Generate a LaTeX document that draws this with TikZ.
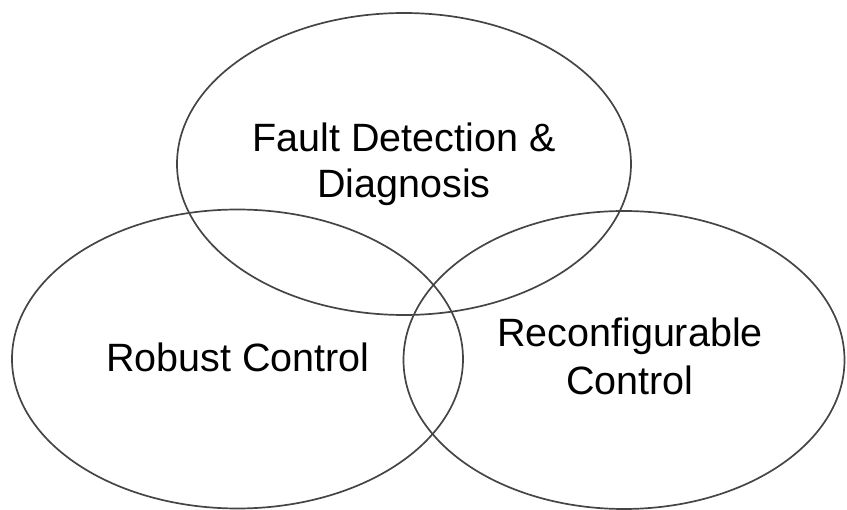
\documentclass[tikz,border=0pt]{standalone}
\usepackage{fontspec}
\setmainfont{Liberation Sans}
\usetikzlibrary{shapes.geometric}
\begin{document}
\begin{tikzpicture}[x=1pt,y=-1pt,
  venn/.style={ellipse,draw=black!73,line width=1.7pt,inner sep=0pt,outer sep=0pt},
  lbl/.style={anchor=base,inner sep=0pt,font=\fontsize{39.5pt}{47pt}\selectfont}]
\useasboundingbox (0,0) rectangle (847,510);
\node[venn,minimum width=454pt,minimum height=302pt] (fdd) at (404,164) {};
\node[venn,minimum width=451pt,minimum height=299pt] (rc) at (237.5,359) {};
\node[venn,minimum width=441pt,minimum height=298pt] (rec) at (624,360) {};
\node[lbl] (t1) at (404,152) {Fault Detection \&};
\node[lbl] (t2) at (404,198) {Diagnosis};
\node[lbl] (t3) at (238,372) {Robust Control};
\node[lbl] (t4) at (630,347) {Reconfigurable};
\node[lbl] (t5) at (630,395) {Control};
\end{tikzpicture}
\end{document}
